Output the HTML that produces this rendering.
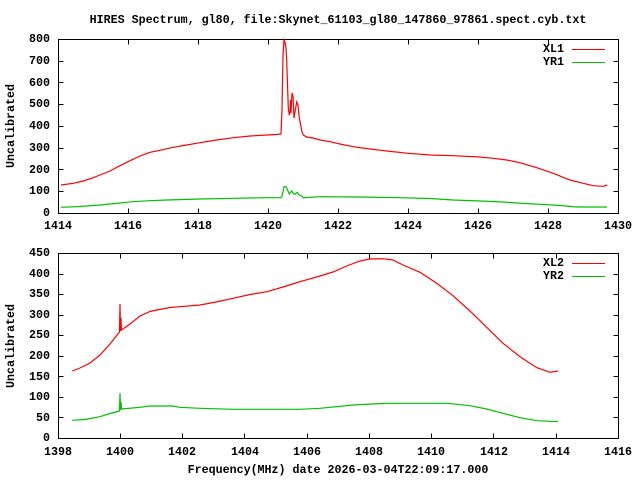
<!DOCTYPE html>
<html><head><meta charset="utf-8"><style>
html,body{margin:0;padding:0;background:#fff;}
svg{display:block;}
text{font-family:"Liberation Mono",monospace;font-weight:bold;font-size:11.67px;fill:#000;}
</style></head><body>
<svg width="640" height="480" viewBox="0 0 640 480" xmlns="http://www.w3.org/2000/svg">
<rect width="640" height="480" fill="#fff"/>
<text x="338" y="20" text-anchor="middle" dominant-baseline="central">HIRES Spectrum, gl80, file:Skynet_61103_gl80_147860_97861.spect.cyb.txt</text>

<!-- TOP PANEL -->
<g stroke="#000" stroke-width="1" fill="none" shape-rendering="crispEdges">
<rect x="58.5" y="39.5" width="560" height="174"/>
<path d="M58.5 191.5h5M613.5 191.5h5M58.5 169.5h5M613.5 169.5h5M58.5 148.5h5M613.5 148.5h5M58.5 126.5h5M613.5 126.5h5M58.5 104.5h5M613.5 104.5h5M58.5 82.5h5M613.5 82.5h5M58.5 61.5h5M613.5 61.5h5"/>
<path d="M128.5 213.5v-5M128.5 39.5v5M198.5 213.5v-5M198.5 39.5v5M268.5 213.5v-5M268.5 39.5v5M338.5 213.5v-5M338.5 39.5v5M408.5 213.5v-5M408.5 39.5v5M478.5 213.5v-5M478.5 39.5v5M548.5 213.5v-5M548.5 39.5v5"/>
</g>
<g text-anchor="end" dominant-baseline="central">
<text x="50" y="213">0</text><text x="50" y="191">100</text><text x="50" y="170">200</text><text x="50" y="148">300</text><text x="50" y="126">400</text><text x="50" y="104">500</text><text x="50" y="83">600</text><text x="50" y="61">700</text><text x="50" y="39">800</text>
</g>
<g text-anchor="middle" dominant-baseline="central">
<text x="58" y="226">1414</text><text x="128" y="226">1416</text><text x="198" y="226">1418</text><text x="268" y="226">1420</text><text x="338" y="226">1422</text><text x="408" y="226">1424</text><text x="478" y="226">1426</text><text x="548" y="226">1428</text><text x="618" y="226">1430</text>
</g>
<text transform="translate(11,126) rotate(-90)" text-anchor="middle" dominant-baseline="central">Uncalibrated</text>
<text x="564" y="49" text-anchor="end" dominant-baseline="central">XL1</text>
<text x="564" y="62" text-anchor="end" dominant-baseline="central">YR1</text>
<path d="M572 49.5H605" stroke="#ff0000" stroke-width="1" shape-rendering="crispEdges"/>
<path d="M572 62.5H605" stroke="#00c000" stroke-width="1" shape-rendering="crispEdges"/>

<polyline fill="none" stroke="#ff0000" stroke-width="1.2" points="61,185 73.3,183.3 83.3,181 93.3,177.7 100,175 110,171 120,165.7 130,160.7 140,156 150,152.3 160,150.3 173.3,147.3 186.7,145 200,142.7 216.7,140 233.3,137.7 250,136 266.7,135 276,134.5 281,134 282,110 283,55 284,40 285,42 286,48 286.7,60 287.3,78 288.3,108 289.3,115 290,113 290.5,100 291,113 292,93 293,96 294,118 295,112 296.7,102 298,105 299.3,118 300.7,125 302,132 303.3,135 306.7,137 313,138 320,140 330,141.7 340,144 353.3,146.7 370,149 386.7,151 408.3,153.3 430,155 453.3,155.7 480,157 493.3,158.3 506.7,160 520,162.7 536.7,167.7 553.3,173.3 570,180 583.3,183.3 593.3,185.7 603.3,186.3 607.3,185"/>
<polyline fill="none" stroke="#00c000" stroke-width="1.2" points="61,207.3 80,206.5 100,205 115,203.5 133,201.7 150,200.7 167,200 200,199 233,198.3 267,197.7 281,197.7 282,196 284,186.7 286,186.7 288.3,191.7 289.3,194 291.7,191 293.3,193.3 295,194.3 297.3,192.3 299.3,195 301.7,196 303.3,197.7 320,196.7 360,197 400,197.7 430,198.5 453,200 480,201 503,202 525,203.5 547,204.7 560,205.5 577,207 607,207"/>

<!-- BOTTOM PANEL -->
<g stroke="#000" stroke-width="1" fill="none" shape-rendering="crispEdges">
<rect x="58.5" y="253.5" width="560" height="185"/>
<path d="M58.5 417.5h5M613.5 417.5h5M58.5 397.5h5M613.5 397.5h5M58.5 376.5h5M613.5 376.5h5M58.5 356.5h5M613.5 356.5h5M58.5 335.5h5M613.5 335.5h5M58.5 315.5h5M613.5 315.5h5M58.5 294.5h5M613.5 294.5h5M58.5 274.5h5M613.5 274.5h5"/>
<path d="M120.5 438.5v-5M120.5 253.5v5M182.5 438.5v-5M182.5 253.5v5M244.5 438.5v-5M244.5 253.5v5M307.5 438.5v-5M307.5 253.5v5M369.5 438.5v-5M369.5 253.5v5M431.5 438.5v-5M431.5 253.5v5M493.5 438.5v-5M493.5 253.5v5M556.5 438.5v-5M556.5 253.5v5"/>
</g>
<g text-anchor="end" dominant-baseline="central">
<text x="50" y="438">0</text><text x="50" y="418">50</text><text x="50" y="397">100</text><text x="50" y="377">150</text><text x="50" y="356">200</text><text x="50" y="335">250</text><text x="50" y="315">300</text><text x="50" y="294">350</text><text x="50" y="274">400</text><text x="50" y="253">450</text>
</g>
<g text-anchor="middle" dominant-baseline="central">
<text x="58" y="452">1398</text><text x="120" y="452">1400</text><text x="182" y="452">1402</text><text x="245" y="452">1404</text><text x="307" y="452">1406</text><text x="369" y="452">1408</text><text x="431" y="452">1410</text><text x="494" y="452">1412</text><text x="556" y="452">1414</text><text x="618" y="452">1416</text>
</g>
<text transform="translate(11,346) rotate(-90)" text-anchor="middle" dominant-baseline="central">Uncalibrated</text>
<text x="338" y="470" text-anchor="middle" dominant-baseline="central">Frequency(MHz) date 2026-03-04T22:09:17.000</text>
<text x="564" y="263" text-anchor="end" dominant-baseline="central">XL2</text>
<text x="564" y="276" text-anchor="end" dominant-baseline="central">YR2</text>
<path d="M572 263.5H605" stroke="#ff0000" stroke-width="1" shape-rendering="crispEdges"/>
<path d="M572 276.5H605" stroke="#00c000" stroke-width="1" shape-rendering="crispEdges"/>

<polyline fill="none" stroke="#ff0000" stroke-width="1.2" points="72.3,371 80,368 90,363 100,355 110,344 119.5,332 120,304 120.5,331 121,318 121.4,330 130,324 140,316 150,311.5 156.7,310 170,307.5 180,306.7 200,305 216,302 233,298.3 250,294.5 267,291.7 283,287 300,281.7 320,276 333,272 346.7,266 360,261 370,259 383,258.7 393,260 403,265 420,272.3 436.7,283.3 453,295.7 470,311 486.7,327.3 503,343.3 520,356.7 537,367.7 550,372.3 558,371"/>
<polyline fill="none" stroke="#00c000" stroke-width="1.2" points="72.3,420.3 85,419.5 100,416.7 110,413.5 119.5,411 120,393.3 120.6,410 121,402 121.5,409 140,407.3 150,406 172,406 180,407.3 200,408.3 233,409.3 300,409.3 320,408.3 353,405 386.7,403.3 446.7,403.3 470,405.7 486.7,409 503,413.3 520,417.7 537,420.7 558,421.7"/>
</svg>
</body></html>
